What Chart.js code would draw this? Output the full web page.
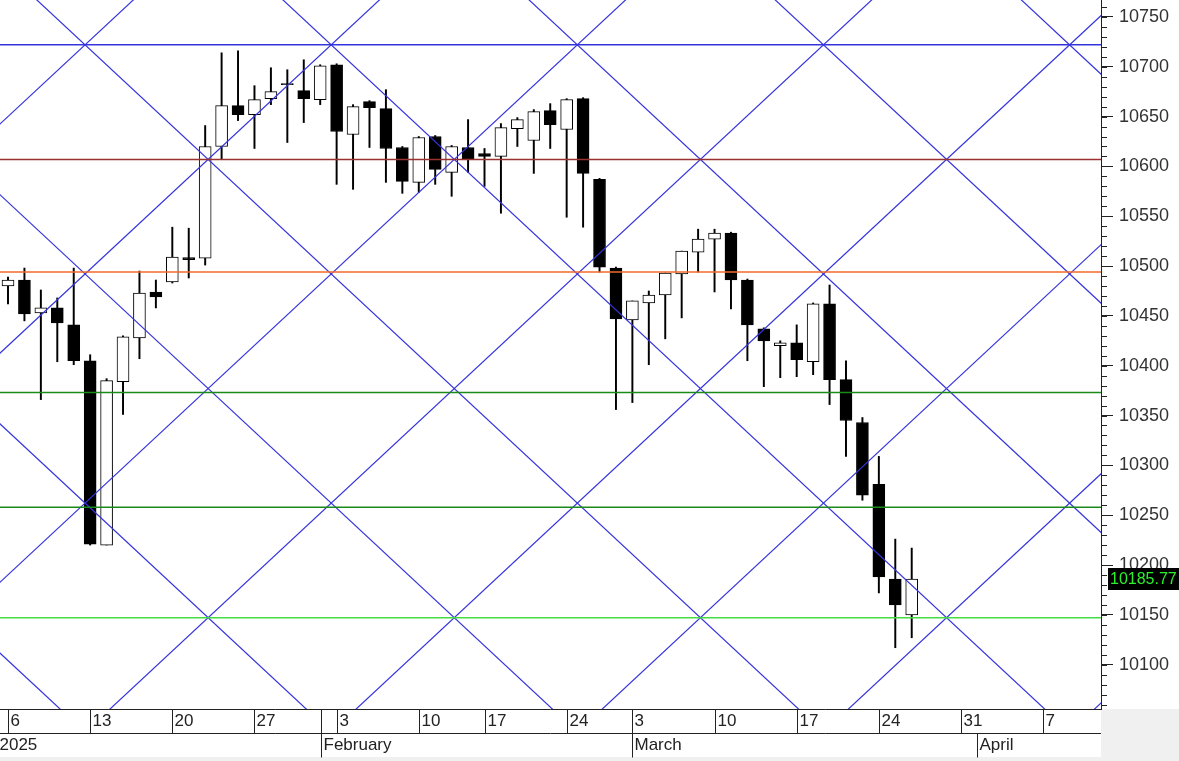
<!DOCTYPE html>
<html>
<head>
<meta charset="utf-8">
<script src="https://cdn.jsdelivr.net/npm/chart.js@4.4.1/dist/chart.umd.min.js"></script>
<style>
  html, body { margin: 0; padding: 0; background: #f0f0f0; overflow: hidden; }
</style>
</head>
<body>
<canvas id="chart" width="1179" height="761"></canvas>
<script>
// x = trading day index, 0 = Mon 6 Jan 2025 (holidays skipped)
const opens = [10480, 10486, 10453, 10458, 10441, 10405, 10220, 10384, 10428, 10474,
  10484, 10508.5, 10508, 10620, 10661, 10652, 10668, 10683, 10676, 10667,
  10702, 10632, 10665, 10658, 10619, 10584, 10630, 10594, 10619, 10613,
  10610, 10638, 10626, 10656, 10637, 10668, 10587, 10498, 10446, 10463,
  10471, 10492, 10514, 10527, 10533, 10486, 10437, 10420, 10423, 10404,
  10462, 10386, 10343, 10281, 10186, 10150]
const highs = [10489, 10498, 10476, 10468, 10498, 10411, 10387, 10430, 10495, 10486,
  10539, 10538, 10641, 10714, 10716, 10681, 10699, 10697, 10707, 10702,
  10703, 10662, 10666, 10677, 10620, 10630, 10631, 10621, 10647, 10618,
  10643, 10649, 10657, 10663, 10668, 10669, 10588, 10499, 10465, 10475,
  10493, 10515, 10537, 10537, 10534, 10487, 10438, 10425, 10441, 10463,
  10481, 10405, 10348, 10309, 10226, 10217]
const lows = [10462, 10445, 10366, 10404, 10401, 10220, 10220, 10351, 10407, 10458,
  10483, 10488, 10501, 10607, 10646, 10618, 10662, 10624, 10644, 10662,
  10582, 10577, 10619, 10584, 10573, 10574, 10582, 10570, 10594, 10580,
  10553, 10620, 10593, 10618, 10549, 10539, 10494, 10356, 10363, 10401,
  10427, 10448, 10494, 10474, 10457, 10405, 10379, 10388, 10389, 10391,
  10361, 10309, 10265, 10172, 10117, 10127]
const closes = [10486, 10452, 10458, 10443, 10405, 10221, 10385, 10429, 10473, 10469,
  10509, 10506.5, 10620, 10661, 10652, 10667, 10675, 10682, 10668, 10701,
  10635, 10660, 10659, 10618, 10585, 10629, 10597, 10620, 10607, 10610,
  10639, 10647, 10655, 10642, 10667, 10593, 10499, 10447, 10465, 10471,
  10493, 10515, 10527, 10533, 10486, 10441, 10425, 10423, 10406, 10462,
  10386, 10345, 10270, 10188, 10160, 10185.77]

const weekLabels = ['6', '13', '20', '27', '3', '10', '17', '24', '3', '10', '17', '24', '31', '7']
const weekDays = [0, 5, 10, 15, 20, 25, 29, 34, 38, 43, 48, 53, 58, 63]
const monthLabels = ['2025', 'February', 'March', 'April']
const monthDays = [-0.66, 19.05, 38, 59]

const yLabels = [10100, 10150, 10200, 10250, 10300, 10350, 10400, 10450, 10500, 10550, 10600, 10650, 10700, 10750]

// horizontal levels
const levels = [10722, 10607, 10494, 10373, 10258, 10147]
const levelColors = ['#3434dc', '#9a3030', '#f26a2a', '#1a8a1a', '#1a8a1a', '#44dd44']

// diagonal lattice: every line crosses the top level at one of these days
const gannAnchors = [-40.25, -25.27, -10.29, 4.69, 19.67, 34.65, 49.63, 64.61, 79.59, 94.57, 109.55]
const gannSlope = 15.35   // points per trading day
const gannBase = 10722
const blue = '#3434dc'

const X_MIN = -0.487, X_MAX = 66.52
const FONT = '"Liberation Sans", Arial, sans-serif'

const lineSets = []
levels.forEach((v, i) => {
  lineSets.push({
    type: 'line', data: [{ x: X_MIN - 1, y: v }, { x: X_MAX + 1, y: v }],
    borderColor: levelColors[i], borderWidth: 1.5, pointRadius: 0, order: 0
  })
})
gannAnchors.forEach(a => {
  const x0 = -2, x1 = 70
  lineSets.push({
    type: 'line', data: [{ x: x0, y: gannBase - gannSlope * (x0 - a) }, { x: x1, y: gannBase - gannSlope * (x1 - a) }],
    borderColor: blue, borderWidth: 1.2, pointRadius: 0, order: 0
  })
  lineSets.push({
    type: 'line', data: [{ x: x0, y: gannBase + gannSlope * (x0 - a) }, { x: x1, y: gannBase + gannSlope * (x1 - a) }],
    borderColor: blue, borderWidth: 1.2, pointRadius: 0, order: 0
  })
})

const bodies = {
  type: 'bar',
  data: opens.map((o, i) => ({ x: i, y: [o, closes[i]] })),
  backgroundColor: opens.map((o, i) => closes[i] >= o ? '#ffffff' : '#000000'),
  borderColor: '#000000', borderWidth: 1, borderSkipped: false,
  barThickness: 12, grouped: false, order: 1
}
const wicks = {
  type: 'bar',
  data: lows.map((l, i) => ({ x: i, y: [l, highs[i]] })),
  backgroundColor: '#000000', borderWidth: 0,
  barThickness: 1.3, grouped: false, order: 2
}

const background = {
  id: 'background',
  beforeDraw(chart) {
    const c = chart.ctx
    c.save()
    c.fillStyle = '#f0f0f0'
    c.fillRect(0, 0, chart.width, chart.height)
    c.fillStyle = '#ffffff'
    c.fillRect(0, 0, chart.width, chart.chartArea.bottom)
    c.fillRect(0, chart.chartArea.bottom, chart.chartArea.right, 48)
    c.restore()
  }
}

const axes = {
  id: 'axes',
  afterDraw(chart) {
    const c = chart.ctx
    const xs = chart.scales.x, ys = chart.scales.y
    const right = chart.chartArea.right
    const top = Math.round(chart.chartArea.bottom) + 0.5
    const mid = top + 24
    const bot = mid + 24
    c.save()
    c.strokeStyle = '#222'
    c.lineWidth = 1
    c.beginPath()
    c.moveTo(0, top); c.lineTo(right, top)
    c.moveTo(0, mid); c.lineTo(right, mid)
    // minor y ticks
    for (let v = 10060; v <= 10760; v += 10) {
      const y = Math.round(ys.getPixelForValue(v)) + 0.5
      c.moveTo(right, y); c.lineTo(right + 6, y)
    }
    c.stroke()

    c.fillStyle = '#222'
    c.font = '17px ' + FONT
    c.textBaseline = 'middle'
    c.textAlign = 'left'
    c.beginPath()
    weekDays.forEach((d, i) => {
      const x = Math.round(xs.getPixelForValue(d)) + 0.5
      c.moveTo(x, top); c.lineTo(x, mid)
      c.fillText(weekLabels[i], x + 2, top + 12)
    })
    monthDays.forEach((d, i) => {
      const x = Math.round(xs.getPixelForValue(d)) + 0.5
      if (i > 0) {
        c.moveTo(x, i === 1 ? top : mid); c.lineTo(x, bot)
      }
      c.fillText(monthLabels[i], x + 2, mid + 12)
    })
    c.stroke()

    // last price tag
    const last = closes[closes.length - 1]
    const py = ys.getPixelForValue(last)
    c.fillStyle = '#000'
    c.fillRect(right + 7, Math.round(py) - 11, chart.width - right - 7, 22)
    c.fillStyle = '#2cf02c'
    c.font = '16px ' + FONT
    c.fillText(last.toFixed(2), right + 9, Math.round(py) + 1)
    c.restore()
  }
}

new Chart(document.getElementById('chart'), {
  type: 'bar',
  data: { datasets: [...lineSets, bodies, wicks] },
  options: {
    responsive: false,
    animation: false,
    devicePixelRatio: 1,
    layout: { padding: { top: 0, left: 0, right: 0, bottom: 52 } },
    plugins: { legend: { display: false }, tooltip: { enabled: false } },
    scales: {
      x: { type: 'linear', min: X_MIN, max: X_MAX, offset: false, display: false },
      y: {
        position: 'right',
        min: 10055.5,
        max: 10767,
        afterBuildTicks: s => { s.ticks = yLabels.map(v => ({ value: v })) },
        afterFit: s => { s.width = 78; s.paddingTop = 0; s.paddingBottom = 0 },
        ticks: {
          autoSkip: false,
          padding: 6,
          color: '#333',
          font: { family: FONT, size: 18 },
          callback: v => String(v)
        },
        grid: { drawOnChartArea: false, tickLength: 12, tickColor: '#222' },
        border: { display: true, color: '#222' }
      }
    }
  },
  plugins: [background, axes]
})
</script>
</body>
</html>
